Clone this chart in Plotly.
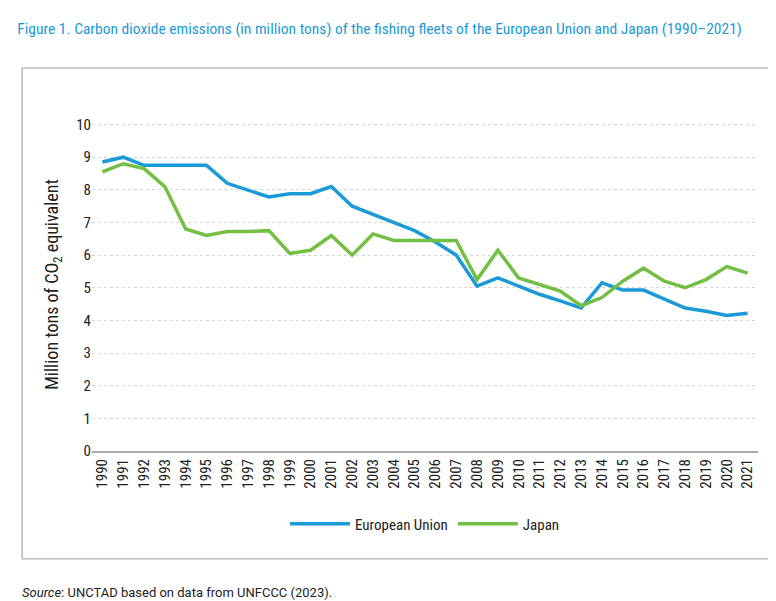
import plotly.graph_objects as go

years = [str(y) for y in range(1990, 2022)]
eu = [8.85, 9.0, 8.75, 8.75, 8.75, 8.75, 8.2, 8.0, 7.78, 7.88, 7.88, 8.1, 7.5, 7.25, 7.0, 6.75,
      6.4, 6.0, 5.05, 5.3, 5.05, 4.8, 4.6, 4.38, 5.15, 4.93, 4.93, 4.65, 4.38, 4.28, 4.15, 4.22]
japan = [8.55, 8.8, 8.65, 8.1, 6.8, 6.6, 6.72, 6.72, 6.75, 6.05, 6.15, 6.6, 6.0, 6.65, 6.45, 6.45,
         6.45, 6.45, 5.25, 6.15, 5.3, 5.1, 4.9, 4.45, 4.7, 5.2, 5.6, 5.2, 5.0, 5.25, 5.65, 5.45]

fig = go.Figure()
fig.add_trace(go.Scatter(x=years, y=eu, name="European Union", mode="lines",
                         line=dict(color="#1a9ad6", width=3.5)))
fig.add_trace(go.Scatter(x=years, y=japan, name="Japan", mode="lines",
                         line=dict(color="#72bf44", width=3.5)))

font = "Roboto Condensed, Liberation Sans Narrow, Arial Narrow, Roboto, sans-serif"
# plot area: x 84..750, y 110..443 (height 333)
fig.update_layout(
    width=776, height=601, paper_bgcolor="white", plot_bgcolor="white",
    margin=dict(l=84, r=26, t=110, b=158),
    font=dict(family=font, size=15, color="#222"),
    title=dict(text="Figure 1. Carbon dioxide emissions (in million tons) of the fishing fleets of the European Union and Japan (1990–2021)",
               x=0.012, y=0.975, xanchor="left", yanchor="top",
               font=dict(size=15.5, color="#1a9ad6")),
    legend=dict(orientation="h", x=0.5, xanchor="center", y=-0.17, yanchor="top",
                font=dict(size=15), itemwidth=60),
    showlegend=True,
    shapes=[dict(type="rect", xref="paper", yref="paper", x0=-0.105, x1=1.021,
                 y0=-0.324, y1=1.15, line=dict(color="#999", width=1))],
    annotations=[dict(text="<i>Source</i>: UNCTAD based on data from UNFCCC (2023).",
                      xref="paper", yref="paper", x=-0.108, y=-0.425, xanchor="left",
                      yanchor="middle", showarrow=False,
                      font=dict(size=13, family="Roboto, sans-serif"))],
)
fig.update_xaxes(tickangle=-90, showgrid=False, showline=True, linecolor="#aaa", linewidth=2,
                 ticks="", range=[-0.5, 31.5], automargin=False)
fig.update_yaxes(range=[0, 10.2], dtick=1, showgrid=True, gridcolor="#d4d4d4", griddash="dot",
                 zeroline=False, ticks="", automargin=False,
                 title=dict(text="Million tons of CO<sub>2</sub> equivalent", standoff=12))
fig.write_html("out.html")
